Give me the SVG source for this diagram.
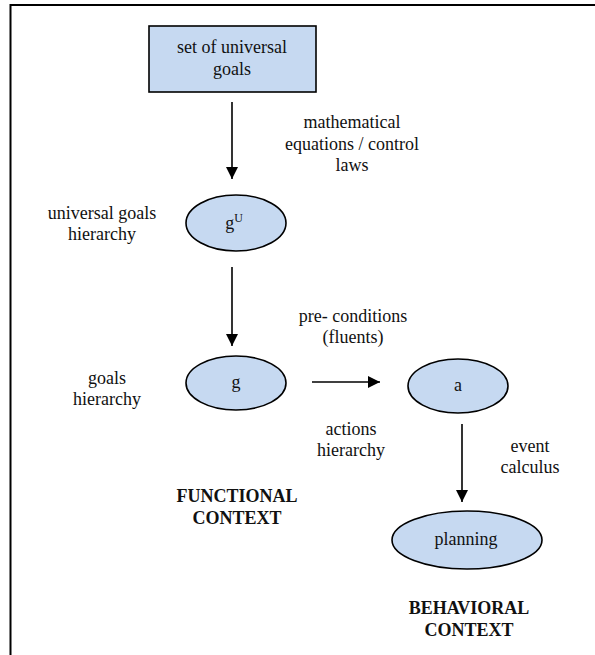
<svg xmlns="http://www.w3.org/2000/svg" width="595" height="655" viewBox="0 0 595 655" font-family="'Liberation Serif', 'Times New Roman', 'DejaVu Serif', serif">
<defs>
<style>
text{font-family:'Liberation Serif','Times New Roman','DejaVu Serif',serif;font-size:18px;fill:#111;text-anchor:middle}
.b{font-weight:bold}
.n{fill:#c6d9f1;stroke:#000;stroke-width:1.6}
.c{stroke:#000;stroke-width:1.6;fill:none}
</style>
<marker id="ah" markerWidth="12" markerHeight="12" viewBox="0 0 12 12" refX="12" refY="6" orient="auto" markerUnits="userSpaceOnUse">
<path d="M0,0 L12,6 L0,12 Z" fill="#000"/>
</marker>
</defs>
<rect width="595" height="655" fill="#fff"/>
<path d="M10.5,655 L10.5,5 L595,5" fill="none" stroke="#000" stroke-width="2"/>
<g id="node-universal-goals">
<rect class="n" x="149" y="26" width="167" height="66"/>
<text x="232" y="53" font-family="Liberation Serif, serif">set of universal</text>
<text x="232" y="75" font-family="Liberation Serif, serif">goals</text>
</g>
<g id="node-gU" font-family="Liberation Serif, serif">
<ellipse class="n" cx="236" cy="223" rx="50" ry="28"/>
<text x="234" y="229" font-family="Liberation Serif, serif">g<tspan font-size="12" dy="-7">U</tspan></text>
</g>
<g id="node-g">
<ellipse class="n" cx="236" cy="383" rx="50" ry="27"/>
<text x="236" y="388" font-family="Liberation Serif, serif">g</text>
</g>
<g id="node-a">
<ellipse class="n" cx="458" cy="386" rx="50" ry="27"/>
<text x="458" y="391" font-family="Liberation Serif, serif">a</text>
</g>
<g id="node-planning">
<ellipse class="n" cx="467" cy="540" rx="75" ry="29"/>
<text x="466" y="545" font-family="Liberation Serif, serif">planning</text>
</g>
<g id="connectors">
<line class="c" x1="232" y1="102" x2="232" y2="179" marker-end="url(#ah)"/>
<line class="c" x1="232" y1="267" x2="232" y2="346" marker-end="url(#ah)"/>
<line class="c" x1="312" y1="382" x2="380" y2="382" marker-end="url(#ah)"/>
<line class="c" x1="462" y1="424" x2="462" y2="502" marker-end="url(#ah)"/>
</g>
<g id="labels" font-family="Liberation Serif, serif">
<text x="352" y="128" font-family="Liberation Serif, serif">mathematical</text>
<text x="352" y="150" font-family="Liberation Serif, serif">equations / control</text>
<text x="352" y="171" font-family="Liberation Serif, serif">laws</text>
<text x="102" y="219" font-family="Liberation Serif, serif">universal goals</text>
<text x="102" y="240" font-family="Liberation Serif, serif">hierarchy</text>
<text x="107" y="384" font-family="Liberation Serif, serif">goals</text>
<text x="107" y="405" font-family="Liberation Serif, serif">hierarchy</text>
<text x="353" y="322" font-family="Liberation Serif, serif">pre- conditions</text>
<text x="353" y="343" font-family="Liberation Serif, serif">(fluents)</text>
<text x="351" y="435" font-family="Liberation Serif, serif">actions</text>
<text x="351" y="456" font-family="Liberation Serif, serif">hierarchy</text>
<text x="530" y="452" font-family="Liberation Serif, serif">event</text>
<text x="530" y="473" font-family="Liberation Serif, serif">calculus</text>
<text class="b" x="237" y="502" font-family="Liberation Serif, serif">FUNCTIONAL</text>
<text class="b" x="237" y="524" font-family="Liberation Serif, serif">CONTEXT</text>
<text class="b" x="469" y="614" font-family="Liberation Serif, serif">BEHAVIORAL</text>
<text class="b" x="469" y="636" font-family="Liberation Serif, serif">CONTEXT</text>
</g>
</svg>
